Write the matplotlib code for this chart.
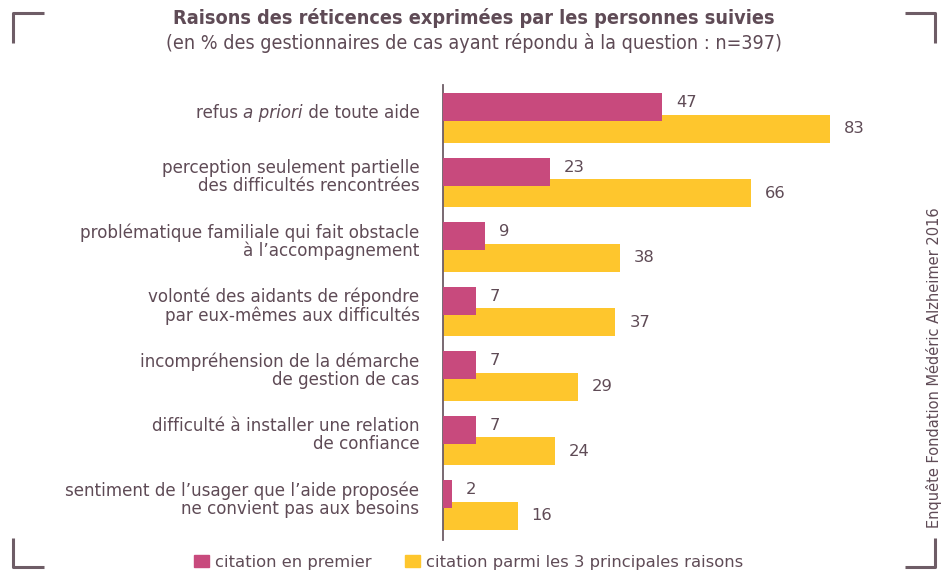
import matplotlib
matplotlib.use("Agg")
from matplotlib import pyplot as plt
from matplotlib.patches import Patch
from matplotlib.lines import Line2D

# data
categories = [
    "refus a priori de toute aide",
    "perception seulement partielle\ndes difficultés rencontrées",
    "problématique familiale qui fait obstacle\nà l’accompagnement",
    "volonté des aidants de répondre\npar eux-mêmes aux difficultés",
    "incompréhension de la démarche\nde gestion de cas",
    "difficulté à installer une relation\nde confiance",
    "sentiment de l’usager que l’aide proposée\nne convient pas aux besoins",
]
first_cited = [47, 23, 9, 7, 7, 7, 2]
top3_cited = [83, 66, 38, 37, 29, 24, 16]
series_names = ["citation en premier", "citation parmi les 3 principales raisons"]

title = "Raisons des réticences exprimées par les personnes suivies"
subtitle = "(en % des gestionnaires de cas ayant répondu à la question\u00a0: n=397)"
source = "Enquête Fondation Médéric Alzheimer 2016"

PINK = "#c84a7d"
YELLOW = "#fec62d"
TXT = "#5f4b56"
LINE = "#6e5d66"

plt.rcParams["font.family"] = ["DejaVu Sans"]

W, H = 947, 572
fig = plt.figure(figsize=(W / 100, H / 100), dpi=100)
ax = fig.add_axes([443 / W, 1 - 540 / H, (909 - 443) / W, (540 - 85) / H])

off = 0.17
bh = 0.434
ys = list(range(len(categories)))
ax.barh([y + off for y in ys], top3_cited, height=bh, color=YELLOW, zorder=2)
ax.barh([y - off for y in ys], first_cited, height=bh, color=PINK, zorder=3)

num_fs = 11.8
for y, v in zip(ys, first_cited):
    ax.annotate(str(v), (v, y - off - 0.07), xytext=(10, 0), textcoords="offset points",
                ha="left", va="center", fontsize=num_fs, color=TXT)
for y, v in zip(ys, top3_cited):
    ax.annotate(str(v), (v, y + off), xytext=(10, 0), textcoords="offset points",
                ha="left", va="center", fontsize=num_fs, color=TXT)

# category labels
lab_fs = 12.1
for y, c in zip(ys, categories):
    if "a priori" in c:
        t = ax.annotate(" de toute aide", (0, y - 0.08), xytext=(-17, 0), textcoords="offset points",
                        xycoords=("axes fraction", "data"), ha="right", va="center",
                        fontsize=lab_fs, color=TXT)
        t2 = ax.annotate("a priori", (0, 0.5), xycoords=t, ha="right", va="center",
                         fontsize=lab_fs, color=TXT, style="italic")
        ax.annotate("refus ", (0, 0.5), xycoords=t2, ha="right", va="center",
                    fontsize=lab_fs, color=TXT)
    else:
        ax.annotate(c, (0, y - 0.08), xytext=(-17, 0), textcoords="offset points",
                    xycoords=("axes fraction", "data"), ha="right", va="center",
                    fontsize=lab_fs, color=TXT, linespacing=1.0)

ax.set_xlim(0, 100)
ax.set_ylim(6.543, -0.512)
ax.set_xticks([])
ax.set_yticks([])
for s in ["top", "right", "bottom"]:
    ax.spines[s].set_visible(False)
ax.spines["left"].set_color(LINE)
ax.spines["left"].set_linewidth(1.3)

# titles
fig.text(0.5, 1 - 18 / H, title, ha="center", va="center", fontsize=14.2,
         fontweight="bold", fontstretch="condensed", color=TXT)
fig.text(0.5, 1 - 43 / H, subtitle, ha="center", va="center", fontsize=14.1,
         fontstretch="condensed", color=TXT)

# source, vertical
fig.text(934 / W, 1 - 528 / H, source, rotation=90, ha="center", va="bottom",
         fontsize=10.5, color=TXT)

# legend
handles = [Patch(color=PINK), Patch(color=YELLOW)]
fig.legend(handles, series_names, loc="center", bbox_to_anchor=(0.495, 1 - 562 / H),
           ncol=2, frameon=False, fontsize=11.8, handlelength=0.9, handleheight=0.8,
           handletextpad=0.4, columnspacing=2.0, labelcolor=TXT)

# corner marks
def corner(xs, ys_):
    fig.add_artist(Line2D([x / W for x in xs], [1 - y / H for y in ys_],
                          color=LINE, linewidth=2.2, solid_capstyle="butt"))

corner([13, 13, 44], [43, 13, 13])
corner([905, 935, 935], [13, 13, 43])
corner([13, 13, 44], [538, 567, 567])
corner([905, 935, 935], [567, 567, 538])

fig.savefig("out.png", dpi=100)
